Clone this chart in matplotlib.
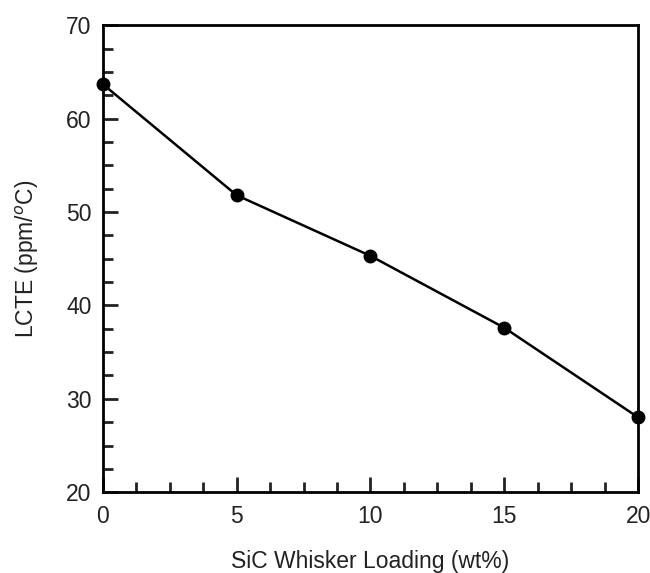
import matplotlib
matplotlib.use("Agg")
import matplotlib.pyplot as plt
from matplotlib.ticker import MultipleLocator

loading = [0, 5, 10, 15, 20]
lcte = [63.7, 51.8, 45.3, 37.6, 28.0]

plt.rcParams['font.family'] = ['Liberation Sans', 'DejaVu Sans']

fig = plt.figure(figsize=(6.5, 5.73), dpi=100)
ax = fig.add_axes([0.158, 0.141, 0.824, 0.815])

ax.plot(loading, lcte, color='black', linewidth=1.8, marker='o',
        markersize=9, clip_on=False, zorder=3)

ax.set_xlim(0, 20)
ax.set_ylim(20, 70)
ax.xaxis.set_major_locator(MultipleLocator(5))
ax.xaxis.set_minor_locator(MultipleLocator(1.25))
ax.yaxis.set_major_locator(MultipleLocator(10))
ax.yaxis.set_minor_locator(MultipleLocator(2.5))

ax.tick_params(which='both', direction='in', top=False, right=False,
               width=2, labelsize=16.5, colors='#222222')
ax.tick_params(which='major', length=11)
ax.tick_params(which='minor', length=7)
ax.tick_params(axis='x', which='major', pad=9)
ax.tick_params(axis='y', which='major', pad=8)
for s in ax.spines.values():
    s.set_linewidth(2)

ax.set_xlabel('SiC Whisker Loading (wt%)', fontsize=16.5, color='#222222', labelpad=16)
ax.set_ylabel('LCTE (ppm/$^{o}$C)', fontsize=16.5, color='#222222', labelpad=18)

fig.savefig('out.png', dpi=100)
